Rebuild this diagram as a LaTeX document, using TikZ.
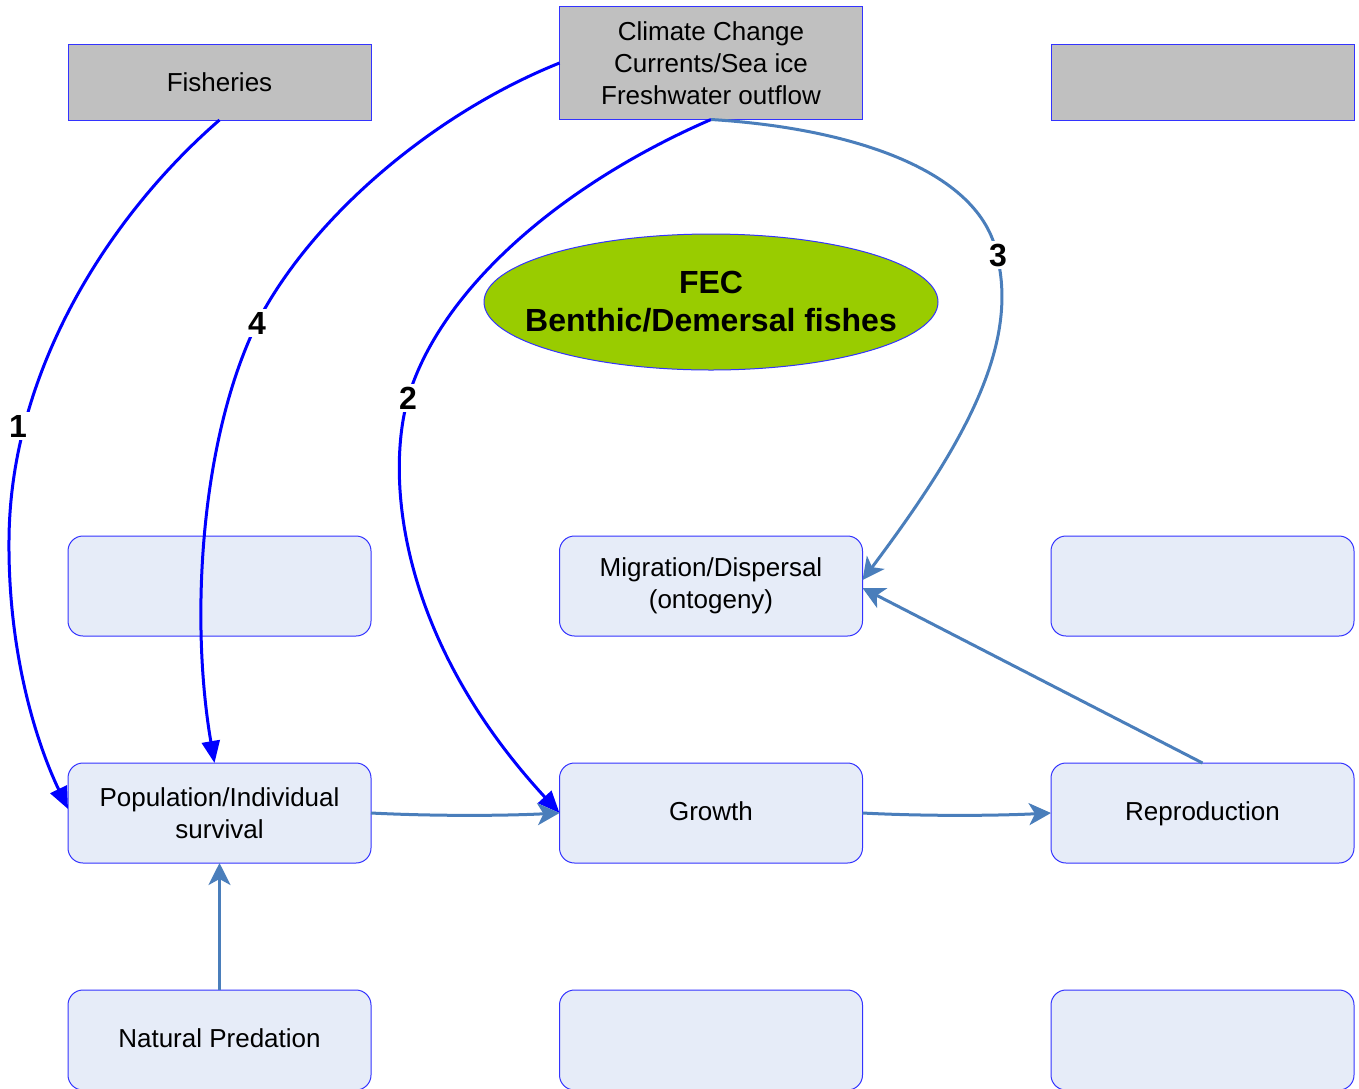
\documentclass[tikz,border=0pt]{standalone}
\usepackage{fontspec}
\setmainfont{Liberation Sans}
\usetikzlibrary{arrows.meta,shapes.geometric}
\definecolor{boxline}{HTML}{3333FF}
\definecolor{greyfill}{HTML}{C0C0C0}
\definecolor{palefill}{HTML}{E6ECF8}
\definecolor{fecgreen}{HTML}{99CC00}
\definecolor{steel}{HTML}{4A7EBB}
\begin{document}
\begin{tikzpicture}[x=0.5pt,y=-0.5pt,
  every node/.style={outer sep=0pt},
  driver/.style={draw=boxline,line width=0.5pt,fill=greyfill,minimum width=151.5pt,
    minimum height=38pt,align=center,font=\fontsize{13}{16}\selectfont},
  process/.style={draw=boxline,line width=0.5pt,fill=palefill,rounded corners=7.5pt,
    minimum width=151.5pt,minimum height=50pt,align=center,font=\fontsize{13}{16}\selectfont},
  strong/.style={draw=blue,line width=1.5pt,-{Triangle[length=11pt,width=9pt]}},
  weak/.style={draw=steel,line width=1.5pt,-{Stealth[length=11pt,width=11pt,inset=3pt]}},
  numlabel/.style={fill=white,inner sep=1.5pt,font=\fontsize{16}{19}\bfseries\selectfont}]
\useasboundingbox (0,0) rectangle (1359,1088);
\begin{scope}
\clip (0,0) rectangle (1359,1088);
% drivers
\node[driver] (fish) at (219.5,82) {Fisheries};
\node[driver,minimum height=56.5pt] (clim) at (711,63) {Climate Change\\Currents/Sea ice\\Freshwater outflow};
\node[driver] (extra) at (1202.5,82) {};
% component
\node[ellipse,draw=boxline,line width=0.5pt,fill=fecgreen,inner sep=0pt,
  minimum width=227pt,minimum height=68pt] (fec) at (711,302) {};
\node[align=center,font=\fontsize{16}{19}\bfseries\selectfont] (fectext) at (fec.center) {FEC\\Benthic/Demersal fishes};
% processes
\node[process] (p11) at (219.5,586) {};
\node[process] (mig) at (711,586) {Migration/Dispersal\\(ontogeny)};
\node[process] (p13) at (1202.5,586) {};
\node[process] (pop) at (219.5,813) {Population/Individual\\survival};
\node[process,text height=9.5pt,text depth=2.5pt] (grow) at (711,813) {Growth};
\node[process,text height=9.5pt,text depth=2.5pt] (repro) at (1202.5,813) {Reproduction};
\node[process,text height=9.5pt,text depth=2.5pt] (pred) at (219.5,1040) {Natural Predation};
\node[process] (p32) at (711,1040) {};
\node[process] (p33) at (1202.5,1040) {};
\end{scope}
% pathways
\draw[strong] (fish.south) .. controls (110,215) and (10,370) .. (9,540)
  .. controls (8,650) and (35,740) .. ([yshift=2pt]pop.west);
\draw[strong] (clim.west) .. controls (430,115) and (310,220) .. (257,323)
  .. controls (200,440) and (190,620) .. ([xshift=-2.5pt]pop.north);
\draw[strong] (clim.south) .. controls (560,185) and (440,290) .. (408,398)
  .. controls (385,480) and (400,640) .. (grow.west);
\draw[weak] (clim.south) .. controls (850,128) and (985,170) .. (998,260)
  .. controls (1018,350) and (960,450) .. ([yshift=3pt]mig.east);
\draw[weak] (repro.north) -- ([yshift=-1pt]mig.east);
\draw[weak] (pop.east) .. controls (430,816) and (500,816) .. (grow.west);
\draw[weak] (grow.east) .. controls (920,816) and (990,816) .. (repro.west);
\draw[weak] (pred.north) -- (pop.south);
% pathway numbers
\node[numlabel] (n1) at (18,426) {1};
\node[numlabel] (n4) at (257,323) {4};
\node[numlabel] (n2) at (408,398) {2};
\node[numlabel] (n3) at (998,255) {3};
\end{tikzpicture}
\end{document}
